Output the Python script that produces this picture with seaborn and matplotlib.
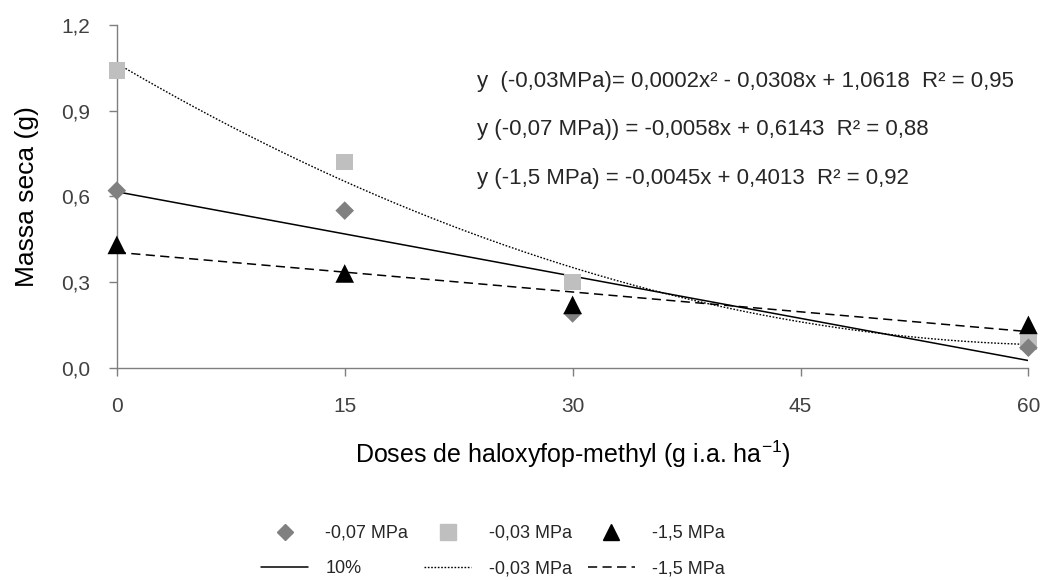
import numpy as np
import pandas as pd
import matplotlib
matplotlib.use("Agg")
import matplotlib.pyplot as plt
import seaborn as sns
from matplotlib.lines import Line2D

# Data
doses = [0, 15, 30, 60]
mpa_007 = [0.62, 0.55, 0.19, 0.07]
mpa_003 = [1.04, 0.72, 0.30, 0.09]
mpa_15 = [0.43, 0.33, 0.22, 0.15]

equations = [
    "y  (-0,03MPa)= 0,0002x² - 0,0308x + 1,0618  R² = 0,95",
    "y (-0,07 MPa)) = -0,0058x + 0,6143  R² = 0,88",
    "y (-1,5 MPa) = -0,0045x + 0,4013  R² = 0,92",
]

sns.set_style("ticks")
plt.rcParams["font.family"] = ["Liberation Sans", "DejaVu Sans"]
plt.rcParams["mathtext.fontset"] = "custom"
plt.rcParams["mathtext.rm"] = "Liberation Sans"

fig = plt.figure(figsize=(10.43, 5.8), dpi=100)
ax = fig.add_axes([0.112, 0.366, 0.874, 0.591])

# trendlines (Excel-style fits)
xs = np.linspace(0, 60, 200)
fit_007 = np.polyval(np.polyfit(doses, mpa_007, 1), xs)
fit_003 = np.polyval(np.polyfit(doses, mpa_003, 2), xs)
fit_15 = np.polyval(np.polyfit(doses, mpa_15, 1), xs)

sns.lineplot(x=xs, y=fit_007, ax=ax, color="black", lw=1.1, linestyle="-")
sns.lineplot(x=xs, y=fit_003, ax=ax, color="black", lw=1.0, linestyle=(0, (1.2, 1.2)))
sns.lineplot(x=xs, y=fit_15, ax=ax, color="black", lw=1.1, linestyle=(0, (6, 3.5)))

sns.scatterplot(x=doses, y=mpa_007, ax=ax, marker="D", s=90, color="#808080",
                edgecolor="none", clip_on=False, zorder=4)
sns.scatterplot(x=doses, y=mpa_003, ax=ax, marker="s", s=140, color="#bfbfbf",
                edgecolor="none", clip_on=False, zorder=3)
sns.scatterplot(x=doses, y=mpa_15, ax=ax, marker="^", s=180, color="black",
                edgecolor="none", clip_on=False, zorder=5)

ax.set_xlim(0, 60)
ax.set_ylim(0, 1.2)
ax.set_xticks([0, 15, 30, 45, 60])
ax.set_yticks([0, 0.3, 0.6, 0.9, 1.2])
ax.set_yticklabels(["0,0", "0,3", "0,6", "0,9", "1,2"])
for s in ["top", "right"]:
    ax.spines[s].set_visible(False)
for s in ["left", "bottom"]:
    ax.spines[s].set_color("#7f7f7f")
    ax.spines[s].set_linewidth(1.0)
ax.tick_params(axis="both", colors="#7f7f7f", labelcolor="#404040", labelsize=15,
               length=6, width=1.0, direction="out")
ax.tick_params(axis="x", pad=15)
ax.tick_params(axis="y", pad=13)

ax.set_xlabel("Doses de haloxyfop-methyl (g i.a. ha$^{\\mathregular{-1}}$)", fontsize=18,
              color="black", labelpad=16)
ax.set_ylabel("Massa seca (g)", fontsize=19, color="black", labelpad=16)

for i, eq in enumerate(equations):
    fig.text(477 / 1043, 1 - (82 + 48 * i) / 580, eq, fontsize=16,
             color="#262626", va="center", ha="left")

handles = [
    Line2D([], [], marker="D", color="#808080", linestyle="none", markersize=8),
    Line2D([], [], color="black", lw=1.1),
    Line2D([], [], marker="s", color="#bfbfbf", linestyle="none", markersize=11),
    Line2D([], [], color="black", lw=1.0, linestyle=(0, (1.2, 1.2))),
    Line2D([], [], marker="^", color="black", linestyle="none", markersize=11),
    Line2D([], [], color="black", lw=1.1, linestyle=(0, (6, 3.5))),
]
labels = ["-0,07 MPa", "10%", "-0,03 MPa", "-0,03 MPa", "-1,5 MPa", "-1,5 MPa"]
fig.legend(handles, labels, ncol=3, loc="center left", bbox_to_anchor=(0.2435, 0.05),
           borderaxespad=0, frameon=False, handlelength=2.6, handletextpad=0.95,
           columnspacing=0.9, labelspacing=1.0, prop={"size": 13})

fig.savefig("out.png", dpi=100, facecolor="white")
